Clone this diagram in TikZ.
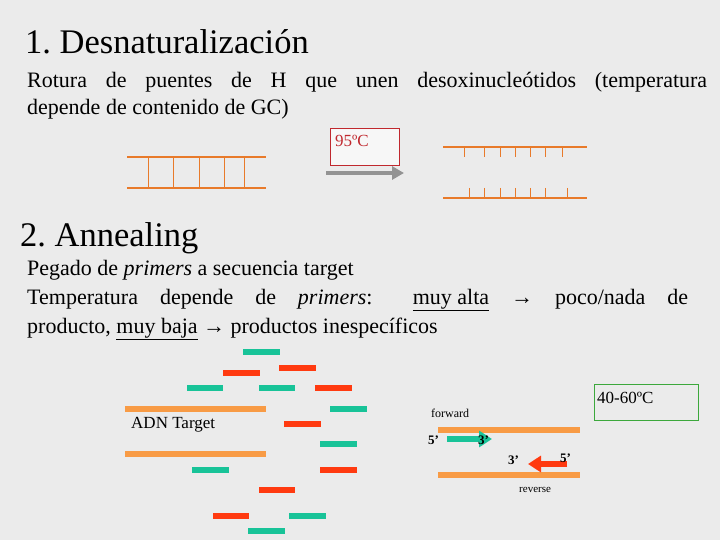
\documentclass[tikz,border=0pt]{standalone}
\usepackage{fontspec}
\setmainfont{Liberation Serif}
\usetikzlibrary{arrows.meta}
\definecolor{bg}{HTML}{EBEBEB}
\definecolor{lad}{HTML}{E87A2A}
\definecolor{grn}{HTML}{18C398}
\definecolor{rd}{HTML}{FF3A10}
\definecolor{org}{HTML}{F89B45}
\definecolor{boxr}{HTML}{C0282E}
\definecolor{boxg}{HTML}{3CA83C}
\tikzset{x=1pt,y=-1pt,
 ladder/.style={lad,line width=2.8pt},
 rung/.style={lad,line width=1pt},
 gb/.style={grn,line width=5.5pt},
 rb/.style={rd,line width=5.5pt},
 strand/.style={org,line width=5.5pt},
 lbl/.style={inner sep=0pt,anchor=west}}
\begin{document}
\begin{tikzpicture}
\fill[bg] (0,0) rectangle (720,540);
\useasboundingbox (0,0) rectangle (720,540);
\node[lbl,font=\fontsize{34.5}{38}\selectfont] (t1) at (25,42) {1.~Desnaturalización};
\node[lbl,anchor=north west,text width=680pt,align=justify,font=\fontsize{22}{27}\selectfont] (p1) at (27,72) {\hyphenpenalty=10000 Rotura de puentes de H que unen desoxinucleótidos (temperatura\linebreak depende de contenido de GC)};
% ladder
\draw[ladder] (127,157) -- (266,157);
\draw[ladder] (127,188) -- (266,188);
\foreach \x in {148,173,199,224,244} \draw[rung] (\x,157) -- (\x,188);
\node[draw=boxr,fill=white!60!bg,minimum width=69pt,minimum height=37pt,inner sep=0pt] (b95) at (364.5,146.5) {};
\node[lbl,boxr,font=\fontsize{17}{18}\selectfont] (t95) at (335,141) {95ºC};
\coordinate (a1) at (326,173);
\coordinate (a2) at (404,173);
\draw[gray!85,line width=4.5pt,-{Triangle[length=12pt,width=13pt]}] (a1) -- (a2);
\draw[ladder] (443,147) -- (587,147);
\foreach \x in {464,484,500,515,530,545,562} \draw[rung] (\x,147) -- (\x,157);
\draw[ladder] (443,198) -- (587,198);
\foreach \x in {469,484,500,515,530,545,567} \draw[rung] (\x,188) -- (\x,198);
\node[lbl,font=\fontsize{34.5}{38}\selectfont] (t2) at (20,238) {2.~Annealing};
\node[lbl,anchor=north west,text width=661pt,align=justify,font=\fontsize{22}{29}\selectfont] (p2) at (27,260) {\hyphenpenalty=10000 Pegado de \emph{primers} a secuencia target\\
Temperatura depende de \emph{primers}: \underline{muy alta} → poco/nada de\linebreak producto, \underline{muy baja} → productos inespecíficos};
% bars
\foreach \a/\b/\y in {243/280/352,187/223/388,259/295/388,330/367/409,320/357/444,192/229/470,289/326/516,248/285/531} \draw[gb] (\a,\y) -- (\b,\y);
\foreach \a/\b/\y in {223/260/373,279/316/368,315/352/388,284/321/424,320/357/470,259/295/490,213/249/516} \draw[rb] (\a,\y) -- (\b,\y);
\draw[strand] (125,409) -- (266,409);
\draw[strand] (125,454) -- (266,454);
\node[lbl,font=\fontsize{17}{18}\selectfont] (adn) at (131,425) {ADN Target};
% primers right
\draw[strand] (438,430) -- (580,430);
\draw[strand] (438,475) -- (580,475);
\node[draw=boxg,minimum width=104pt,minimum height=36pt,inner sep=0pt] (b40) at (646,402) {};
\node[lbl,font=\fontsize{17}{18}\selectfont] (t40) at (597,398) {40-60ºC};
\node[lbl,font=\fontsize{12}{13}\selectfont] (fw) at (431,413) {forward};
\coordinate (g1) at (447,439);
\coordinate (g2) at (492,439);
\draw[grn,line width=6pt,-{Triangle[length=13pt,width=16pt]}] (g1) -- (g2);
\coordinate (r1) at (567,464);
\coordinate (r2) at (528,464);
\draw[rd,line width=6pt,-{Triangle[length=13pt,width=16pt]}] (r1) -- (r2);
\node[lbl,font=\bfseries\fontsize{13}{14}\selectfont] (f5) at (428,440) {5'};
\node[lbl,font=\bfseries\fontsize{13}{14}\selectfont] (f3) at (478,440) {3'};
\node[lbl,font=\bfseries\fontsize{13}{14}\selectfont] (r3) at (508,460) {3'};
\node[lbl,font=\bfseries\fontsize{13}{14}\selectfont] (r5) at (560,458) {5'};
\node[lbl,font=\fontsize{11}{12}\selectfont] (rv) at (519,490) {reverse};
\end{tikzpicture}
\end{document}
